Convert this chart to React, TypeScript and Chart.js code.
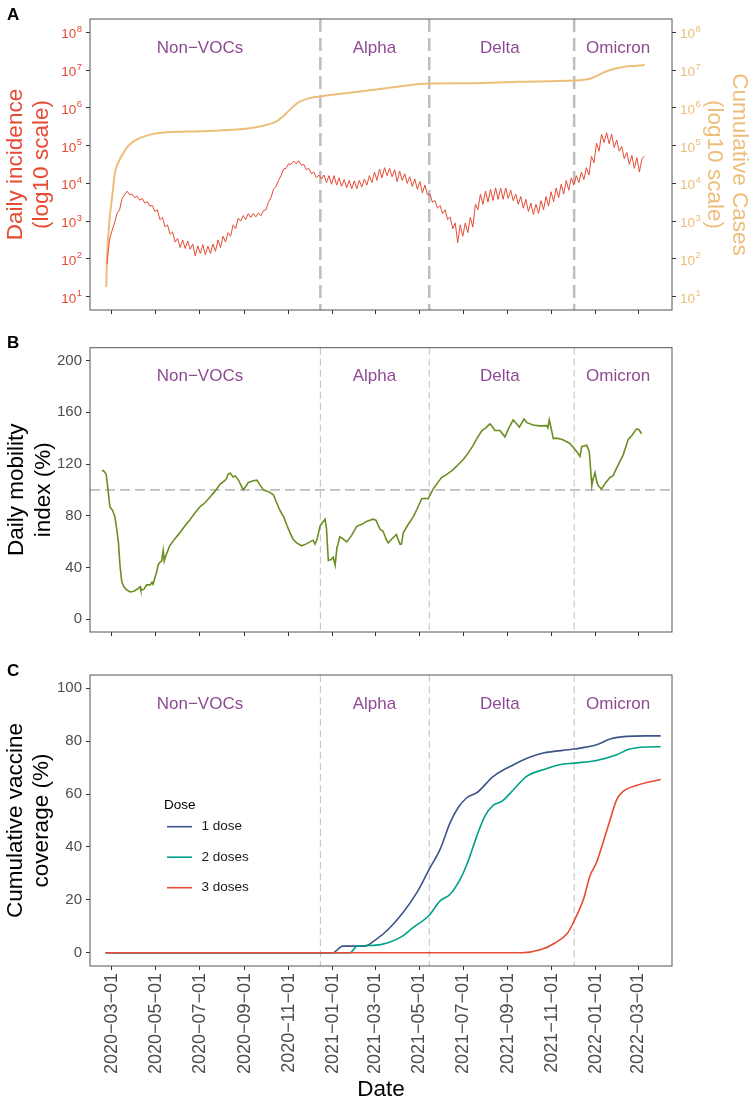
import React, { useEffect, useRef } from 'react';
import { Chart, registerables } from 'chart.js';

Chart.register(...registerables);

const FONT = '"Liberation Sans", Arial, Helvetica, sans-serif';
Chart.defaults.font.family = FONT;

// ---------------------------------------------------------------------------
// Time axis: x values are days counted from 2020-03-01
// ---------------------------------------------------------------------------
const ORIGIN = Date.UTC(2020, 2, 1);
const dayOf = (iso: string): number => {
  const [y, m, d] = iso.split('-').map(Number);
  return Math.round((Date.UTC(y, m - 1, d) - ORIGIN) / 86400000);
};

const DATE_TICKS = [
  '2020-03-01', '2020-05-01', '2020-07-01', '2020-09-01', '2020-11-01',
  '2021-01-01', '2021-03-01', '2021-05-01', '2021-07-01', '2021-09-01',
  '2021-11-01', '2022-01-01', '2022-03-01',
];
const DATE_TICK_LABELS = DATE_TICKS.map((s) => s.replace(/-/g, '\u2212'));
const X_MIN = -30.5;
const X_MAX = 776.7;

// Variant periods
const VOC_STARTS = ['2020-12-15', '2021-05-15', '2021-12-02'];
const PERIOD_NAMES = ['Non\u2212VOCs', 'Alpha', 'Delta', 'Omicron'];
const PERIOD_LABEL_DATES = ['2020-07-01', '2021-02-28', '2021-08-21', '2022-02-01'];

// ---------------------------------------------------------------------------
// Panel A: daily incidence (semi-weekly samples) and cumulative cases
// ---------------------------------------------------------------------------
const INCIDENCE_FIRST_DAY = -7;
const INCIDENCE_STEP_DAYS = 3.5;
const INCIDENCE = [
  72, 320, 560, 890, 1600, 2000, 4000, 5000, 6200, 5000,
  5200, 4200, 4600, 3600, 4000, 3000, 3300, 2500, 2600, 1800,
  2000, 1100, 1260, 710, 800, 450, 520, 280, 350, 200,
  320, 190, 300, 180, 250, 120, 220, 140, 240, 130,
  220, 140, 250, 160, 320, 200, 400, 280, 500, 400,
  800, 630, 1200, 1000, 1400, 1100, 1600, 1260, 1600, 1300,
  1650, 1400, 1900, 2000, 3200, 4200, 7000, 8300, 12000, 16000,
  24000, 25000, 33000, 32000, 39000, 33000, 40000, 30000, 32000, 23000,
  25000, 18000, 20000, 14000, 16600, 13000, 16600, 10500, 16000, 9500,
  16000, 9000, 14000, 8300, 12600, 7600, 12000, 7200, 11700, 7200,
  12000, 8000, 13000, 9000, 16000, 10500, 20000, 12000, 24000, 14000,
  26000, 16000, 25000, 15000, 23000, 11200, 21000, 12000, 18000, 10000,
  15000, 8300, 13000, 7000, 11200, 5600, 9000, 5000, 5200, 3200,
  3500, 2200, 2600, 1600, 2000, 1100, 1300, 630, 900, 270,
  800, 400, 900, 500, 1260, 700, 2800, 2000, 5200, 2800,
  6300, 3200, 7000, 3500, 7600, 3800, 7600, 3800, 7600, 4000,
  6600, 3500, 5200, 2800, 4500, 2200, 3800, 1800, 3000, 1500,
  2800, 1600, 3500, 2000, 4500, 2500, 6000, 3300, 7600, 4200,
  9500, 5200, 12000, 6600, 14000, 9000, 16000, 10500, 20000, 12600,
  26000, 16600, 52000, 35000, 117000, 71000, 200000, 120000, 220000, 112000,
  200000, 89000, 141000, 71000, 95000, 45000, 66000, 32000, 55000, 25000,
  48000, 20000, 45000, 52000,
];

const CUMULATIVE_DAYS = [
  -8, -7, -5.5, -3, 0, 4, 10, 16, 22, 30, 39, 53, 76, 122, 168, 198, 215, 228,
  242, 251, 261, 275, 289, 330, 372, 404, 440, 497, 566, 641, 663, 673, 681,
  691, 700, 712, 728, 739,
];
const CUMULATIVE = [
  18, 100, 320, 1350, 4000, 19000, 40000, 65000, 95000, 129000, 160000, 195000,
  224000, 240000, 263000, 302000, 355000, 437000, 724000, 1070000, 1480000,
  1820000, 2000000, 2510000, 3160000, 3800000, 4370000, 4470000, 4900000,
  5250000, 5900000, 7080000, 8500000, 10000000, 11200000, 12300000, 12900000,
  13500000,
];
const LOG_EXPONENTS = [1, 2, 3, 4, 5, 6, 7, 8];

// ---------------------------------------------------------------------------
// Panel B: daily mobility index (%)
// ---------------------------------------------------------------------------
const MOBILITY_DAYS = [
  -14, -12, -8, -5.5, -3, 1, 4, 7, 9, 11, 13.5, 16.5, 20, 25, 30.5, 36, 39, 40,
  44, 48, 53, 55.5, 57, 62, 64, 66.5, 69, 71, 72.5, 74, 80, 87, 94, 101, 108,
  115, 122, 129, 136, 143, 150, 155, 158, 161, 164, 168, 171, 176, 182, 186,
  189, 196, 201, 205, 210, 215, 219, 224, 228, 233, 238, 243, 247, 251, 256,
  263, 269, 277, 279, 281.5, 284, 288.5, 291, 295.5, 297.5, 300, 304, 307, 308,
  309.5, 312, 313.5, 316, 320.5, 325.5, 331.5, 339.5, 347, 353, 362, 366, 372,
  376, 380, 383, 388, 394.5, 396.5, 399.5, 401.5, 404, 410.5, 418, 423, 429.5,
  434, 438.5, 445.5, 451, 457, 464.5, 473.5, 482.5, 488, 494, 500.5, 506, 513,
  518.5, 524, 527.5, 531, 538, 545, 550.5, 556.5, 560, 565, 571.5, 575.5, 584,
  593.5, 603, 604.5, 606.5, 609, 612, 616, 623.5, 628, 635, 639.5, 644.5, 649,
  651.5, 658.5, 662, 665.5, 667, 670, 672.5, 674.5, 679, 684, 690.5, 695, 700,
  704.5, 709, 716, 721, 727.5, 731, 734.5,
];
const MOBILITY = [
  114.5, 115, 112, 100, 87, 84, 79, 68, 59, 42, 29, 25, 22.8, 21, 21.5, 23.5,
  25, 22.5, 22.8, 26.5, 26.5, 28.5, 27, 36.6, 42, 44, 45, 53, 45, 48, 56.7, 62,
  66.7, 72, 76.8, 82, 86.9, 90, 94.4, 99, 104.5, 106.5, 108, 112, 113, 110,
  110.8, 107, 100, 103, 105.7, 107, 107.5, 104, 100, 99, 98, 96, 90.6, 84,
  79.3, 72, 66.7, 62, 59, 56.7, 58, 60.5, 61, 58, 61, 71.8, 74, 77.3, 70, 45.4,
  46, 47.9, 45, 41.6, 55.4, 58, 63.7, 62, 59.7, 64, 71.8, 73.5, 75.6, 77.3,
  76.5, 69.3, 68, 62, 59, 62, 65.5, 62, 58, 58, 66.7, 73, 79.3, 85, 93.1, 93.5,
  93.1, 100.7, 105, 109.5, 112, 115.8, 120.8, 124, 128.4, 134, 139.7, 145.9,
  148, 151, 149, 145.9, 145.9, 141, 148, 154.2, 152, 148.5, 154.8, 152, 150.2,
  149.5, 149.7, 148, 154.2, 148, 139.7, 140, 139.1, 138, 135.9, 133, 129.6,
  125.9, 133.4, 134.6, 129.6, 103.2, 108, 113.3, 106, 103.2, 100.7, 105, 109.5,
  111, 117, 122, 127.1, 139.1, 142, 147.2, 146.5, 143.4,
];
const MOBILITY_TICKS = [0, 40, 80, 120, 160, 200];
const MOBILITY_BASELINE = 100;

// ---------------------------------------------------------------------------
// Panel C: cumulative vaccine coverage (%)
// ---------------------------------------------------------------------------
const DOSE_LABELS = ['1 dose', '2 doses', '3 doses'];
const DOSE1_DAYS = [
  -9, 306, 320, 350, 366, 383, 404, 423, 440, 455, 469, 480, 492, 506, 529,
  557, 580, 598, 641, 672, 691, 714, 740, 761,
];
const DOSE1 = [
  0, 0, 2.5, 2.5, 5.0, 8.8, 15.3, 22.8, 31.6, 39.1, 49.2, 54.8, 58.6, 60.5,
  66.7, 71.1, 74, 75.5, 77, 78.6, 80.8, 81.8, 82, 82,
];
const DOSE2_DAYS = [
  -9, 330, 340, 363, 383, 403, 418, 440, 455, 469, 483, 494, 506, 517, 529,
  541, 557, 575, 598, 621, 641, 672, 700, 718, 740, 761,
];
const DOSE2 = [
  0, 0, 2.5, 2.8, 3.8, 6.3, 9.6, 14.2, 19.6, 22.1, 27.8, 34.7, 44.1, 51.6,
  55.8, 57.3, 61.7, 66.7, 69.2, 71.1, 71.7, 72.7, 74.9, 77, 77.8, 77.9,
];
const DOSE3_DAYS = [-9, 569, 595, 615, 632, 640, 654, 663, 672, 681, 691, 700, 709, 728, 761];
const DOSE3 = [0, 0, 1.2, 3.8, 7.5, 11.5, 20.3, 29.1, 34.1, 41.6, 50.4, 57.9, 61, 63.3, 65.5];
const COVERAGE_TICKS = [0, 20, 40, 60, 80, 100];

// ---------------------------------------------------------------------------
// Styling
// ---------------------------------------------------------------------------
const RED = '#E64B35';
const ORANGE = '#EDBE7A';
const GREEN = '#6B8E23';
const BLUE = '#3C5488';
const TEAL = '#00A087';
const PURPLE = '#8E4A93';
const GUIDE = '#BEBEBE';
const TICK_TEXT = '#4D4D4D';
const FRAME = '#555555';

const W = 751;
const PLOT_LEFT = 90;
const PLOT_RIGHT_GAP = 79;

const toPoints = (xs: number[], ys: number[]) => xs.map((x, i) => ({ x, y: ys[i] }));

function xAxis(showLabels: boolean, height: number) {
  return {
    type: 'linear',
    min: X_MIN,
    max: X_MAX,
    afterBuildTicks: (s: any) => {
      s.ticks = DATE_TICKS.map((d) => ({ value: dayOf(d) }));
    },
    afterFit: (s: any) => {
      s.height = height;
    },
    border: { display: false },
    grid: { display: true, drawOnChartArea: false, drawTicks: true, tickLength: 4, color: '#333333' },
    ticks: {
      display: showLabels,
      autoSkip: false,
      minRotation: 90,
      maxRotation: 90,
      padding: 3,
      color: TICK_TEXT,
      font: { size: 18, family: FONT },
      callback: (_v: any, i: number) => DATE_TICK_LABELS[i],
    },
  };
}

function linearY(min: number, max: number, ticks: number[]) {
  return {
    type: 'linear',
    position: 'left',
    min,
    max,
    afterBuildTicks: (s: any) => {
      s.ticks = ticks.map((v) => ({ value: v }));
    },
    afterFit: (s: any) => {
      s.width = PLOT_LEFT;
    },
    border: { display: false },
    grid: { display: true, drawOnChartArea: false, drawTicks: true, tickLength: 4, color: '#333333' },
    ticks: { padding: 4, color: TICK_TEXT, font: { size: 15, family: FONT } },
  };
}

function logY(position: 'left' | 'right', width: number) {
  return {
    type: 'logarithmic',
    position,
    min: Math.pow(10, 0.65),
    max: Math.pow(10, 8.35),
    afterBuildTicks: (s: any) => {
      s.ticks = LOG_EXPONENTS.map((e) => ({ value: Math.pow(10, e) }));
    },
    afterFit: (s: any) => {
      s.width = width;
    },
    border: { display: false },
    grid: { display: true, drawOnChartArea: false, drawTicks: true, tickLength: 4, color: '#333333' },
    ticks: { display: false },
  };
}

// ---------------------------------------------------------------------------
// Drawing helpers
// ---------------------------------------------------------------------------
function dashed(ctx: CanvasRenderingContext2D, x1: number, y1: number, x2: number, y2: number,
  width: number, dash: number[]) {
  ctx.save();
  ctx.strokeStyle = GUIDE;
  ctx.lineWidth = width;
  ctx.setLineDash(dash);
  ctx.beginPath();
  ctx.moveTo(x1, y1);
  ctx.lineTo(x2, y2);
  ctx.stroke();
  ctx.restore();
}

function titleLines(ctx: CanvasRenderingContext2D, lines: string[], cx: number, cy: number,
  angle: number, size: number, color: string, gap: number) {
  ctx.save();
  ctx.translate(cx, cy);
  ctx.rotate(angle);
  ctx.fillStyle = color;
  ctx.font = `${size}px ${FONT}`;
  ctx.textAlign = 'center';
  ctx.textBaseline = 'middle';
  lines.forEach((t, i) => ctx.fillText(t, 0, (i - (lines.length - 1) / 2) * gap));
  ctx.restore();
}

function powerLabels(ctx: CanvasRenderingContext2D, scale: any, side: 'left' | 'right', color: string) {
  const area = scale.chart.chartArea;
  ctx.save();
  ctx.fillStyle = color;
  ctx.textAlign = 'left';
  ctx.textBaseline = 'alphabetic';
  for (const e of LOG_EXPONENTS) {
    const y = scale.getPixelForValue(Math.pow(10, e));
    ctx.font = `13.5px ${FONT}`;
    const bw = ctx.measureText('10').width;
    ctx.font = `9.5px ${FONT}`;
    const sw = ctx.measureText(String(e)).width;
    const x0 = side === 'left' ? area.left - 8 - bw - sw - 0.5 : area.right + 8;
    ctx.font = `13.5px ${FONT}`;
    ctx.fillText('10', x0, y + 6);
    ctx.font = `9.5px ${FONT}`;
    ctx.fillText(String(e), x0 + bw + 0.5, y - 0.5);
  }
  ctx.restore();
}

interface PanelDecor {
  letter: string;
  vlineWidth: number;
  vlineDash: number[];
  baseline?: number;
  after?: (chart: any) => void;
}

function panelPlugin(decor: PanelDecor) {
  return {
    id: 'panelDecor' + decor.letter,
    beforeDatasetsDraw(chart: any) {
      const { ctx, chartArea: a, scales } = chart;
      ctx.save();
      ctx.beginPath();
      ctx.rect(a.left, a.top, a.right - a.left, a.bottom - a.top);
      ctx.clip();
      if (decor.baseline !== undefined) {
        const y = scales.y.getPixelForValue(decor.baseline);
        dashed(ctx, a.left, y, a.right, y, 1.8, [10, 5]);
      }
      for (const d of VOC_STARTS) {
        const x = scales.x.getPixelForValue(dayOf(d));
        dashed(ctx, x, a.top, x, a.bottom, decor.vlineWidth, decor.vlineDash);
      }
      ctx.restore();
    },
    afterDraw(chart: any) {
      const { ctx, chartArea: a, scales } = chart;
      // panel frame
      ctx.save();
      ctx.strokeStyle = FRAME;
      ctx.lineWidth = 1;
      ctx.strokeRect(a.left, a.top, a.right - a.left, a.bottom - a.top);
      ctx.restore();
      // period names
      ctx.save();
      ctx.fillStyle = PURPLE;
      ctx.font = `17px ${FONT}`;
      ctx.textAlign = 'center';
      ctx.textBaseline = 'middle';
      PERIOD_NAMES.forEach((name, i) => {
        ctx.fillText(name, scales.x.getPixelForValue(dayOf(PERIOD_LABEL_DATES[i])), a.top + 29);
      });
      // panel letter
      ctx.fillStyle = '#000000';
      ctx.font = `bold 17px ${FONT}`;
      ctx.textAlign = 'left';
      ctx.textBaseline = 'alphabetic';
      ctx.fillText(decor.letter, 7, a.top + 0.5);
      ctx.restore();
      if (decor.after) decor.after(chart);
    },
  };
}

function baseOptions(top: number, scales: any) {
  return {
    responsive: false,
    maintainAspectRatio: false,
    animation: false,
    events: [],
    layout: { padding: { top, left: 0, right: scales.y2 ? 0 : PLOT_RIGHT_GAP, bottom: 0 } },
    plugins: { legend: { display: false }, tooltip: { enabled: false } },
    elements: { point: { radius: 0 } },
    scales,
  };
}

// ---------------------------------------------------------------------------
// Chart configurations
// ---------------------------------------------------------------------------
const PANEL_A = { top: 0, height: 325, plotTop: 19, plotBottom: 310 };
const PANEL_B = { top: 325, height: 320, plotTop: 22.7, plotBottom: 313.3 };
const PANEL_C = { top: 645, height: 456, plotTop: 30, plotBottom: 321 };

function configA(): any {
  return {
    type: 'line',
    data: {
      datasets: [
        {
          label: 'Daily incidence',
          data: INCIDENCE.map((v, i) => ({ x: INCIDENCE_FIRST_DAY + i * INCIDENCE_STEP_DAYS, y: v })),
          borderColor: RED,
          borderWidth: 1,
          pointRadius: 0,
          yAxisID: 'y',
        },
        {
          label: 'Cumulative cases',
          data: toPoints(CUMULATIVE_DAYS, CUMULATIVE),
          borderColor: ORANGE,
          borderWidth: 2,
          pointRadius: 0,
          cubicInterpolationMode: 'monotone',
          yAxisID: 'y2',
        },
      ],
    },
    options: baseOptions(PANEL_A.plotTop, {
      x: xAxis(false, PANEL_A.height - PANEL_A.plotBottom),
      y: logY('left', PLOT_LEFT),
      y2: logY('right', PLOT_RIGHT_GAP),
    }),
    plugins: [
      panelPlugin({
        letter: 'A',
        vlineWidth: 2.5,
        vlineDash: [13, 6],
        after: (chart) => {
          const { ctx, chartArea: a, scales } = chart;
          powerLabels(ctx, scales.y, 'left', RED);
          powerLabels(ctx, scales.y2, 'right', ORANGE);
          const cy = (a.top + a.bottom) / 2;
          titleLines(ctx, ['Daily incidence', '(log10 scale)'], 29, cy, -Math.PI / 2, 22.5, RED, 26);
          titleLines(ctx, ['Cumulative Cases', '(log10 scale)'], 726.5, cy, Math.PI / 2, 22.5, ORANGE, 25);
        },
      }),
    ],
  };
}

function configB(): any {
  return {
    type: 'line',
    data: {
      datasets: [
        {
          label: 'Daily mobility index',
          data: toPoints(MOBILITY_DAYS, MOBILITY),
          borderColor: GREEN,
          borderWidth: 1.6,
          pointRadius: 0,
        },
      ],
    },
    options: baseOptions(PANEL_B.plotTop, {
      x: xAxis(false, PANEL_B.height - PANEL_B.plotBottom),
      y: linearY(-10, 210, MOBILITY_TICKS),
    }),
    plugins: [
      panelPlugin({
        letter: 'B',
        vlineWidth: 1,
        vlineDash: [7, 4],
        baseline: MOBILITY_BASELINE,
        after: (chart) => {
          const { ctx, chartArea: a } = chart;
          titleLines(ctx, ['Daily mobility', 'index (%)'], 30, (a.top + a.bottom) / 2, -Math.PI / 2, 22.5, '#000000', 27);
        },
      }),
    ],
  };
}

function configC(): any {
  const colors = [BLUE, TEAL, RED];
  const series = [toPoints(DOSE1_DAYS, DOSE1), toPoints(DOSE2_DAYS, DOSE2), toPoints(DOSE3_DAYS, DOSE3)];
  return {
    type: 'line',
    data: {
      datasets: series.map((data, i) => ({
        label: DOSE_LABELS[i],
        data,
        borderColor: colors[i],
        borderWidth: 1.6,
        pointRadius: 0,
        cubicInterpolationMode: 'monotone',
        // later doses are painted over earlier ones
        order: series.length - i,
      })),
    },
    options: baseOptions(PANEL_C.plotTop, {
      x: xAxis(true, PANEL_C.height - PANEL_C.plotBottom),
      y: linearY(-5, 105, COVERAGE_TICKS),
    }),
    plugins: [
      panelPlugin({
        letter: 'C',
        vlineWidth: 1,
        vlineDash: [7, 4],
        after: (chart) => {
          const { ctx, chartArea: a } = chart;
          titleLines(ctx, ['Cumulative vaccine', 'coverage (%)'], 29, (a.top + a.bottom) / 2, -Math.PI / 2, 22.5, '#000000', 26);
          titleLines(ctx, ['Date'], (a.left + a.right) / 2, PANEL_C.height - 11, 0, 22.5, '#000000', 0);
          // legend
          ctx.save();
          ctx.fillStyle = '#000000';
          ctx.font = `13.5px ${FONT}`;
          ctx.textAlign = 'left';
          ctx.textBaseline = 'middle';
          const lx = 164;
          ctx.fillText('Dose', lx, a.top + 130);
          chart.data.datasets.forEach((ds: any, i: number) => {
            const y = a.top + 151.7 + i * 30.5;
            ctx.strokeStyle = ds.borderColor;
            ctx.lineWidth = 1.6;
            ctx.beginPath();
            ctx.moveTo(lx + 3, y);
            ctx.lineTo(lx + 28, y);
            ctx.stroke();
            ctx.fillStyle = '#1A1A1A';
            ctx.fillText(ds.label, lx + 37.5, y);
          });
          ctx.restore();
        },
      }),
    ],
  };
}

function ChartCanvas({ top, height, make }: { top: number; height: number; make: () => any }) {
  const ref = useRef<HTMLCanvasElement | null>(null);
  useEffect(() => {
    if (!ref.current) return;
    const chart = new Chart(ref.current, make());
    return () => chart.destroy();
  }, [make]);
  return (
    <canvas
      ref={ref}
      width={W}
      height={height}
      style={{ position: 'absolute', left: 0, top, width: W, height, display: 'block' }}
    />
  );
}

export default function App() {
  return (
    <div style={{ position: 'absolute', left: 0, top: 0, width: W, height: 1101, background: '#ffffff' }}>
      <ChartCanvas top={PANEL_A.top} height={PANEL_A.height} make={configA} />
      <ChartCanvas top={PANEL_B.top} height={PANEL_B.height} make={configB} />
      <ChartCanvas top={PANEL_C.top} height={PANEL_C.height} make={configC} />
    </div>
  );
}
